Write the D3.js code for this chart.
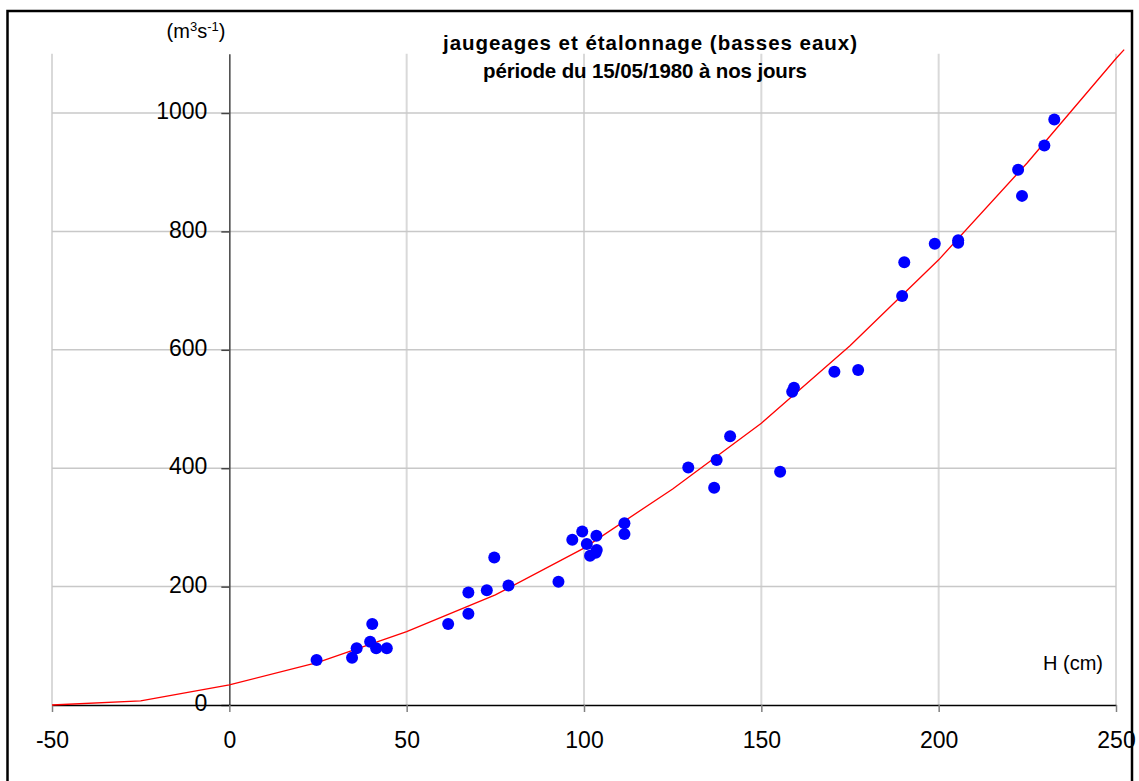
<!DOCTYPE html>
<html>
<head>
<meta charset="utf-8">
<script src="https://cdn.jsdelivr.net/npm/d3@7"></script>
<style>
  body { margin: 0; background: #fff; }
  svg { display: block; }
  svg text { font-family: "Liberation Sans", Arial, sans-serif; }
</style>
</head>
<body>
<div id="chart"></div>
<script>
// jaugeages (H en cm, Q en m3/s)
const jaugeH = [24.6, 34.6, 35.9, 39.7, 40.3, 41.4, 44.4, 61.7, 67.4, 67.4, 72.6, 74.7, 78.7,
  92.8, 96.7, 99.5, 100.8, 101.7, 103.5, 103.6, 103.3, 111.4, 111.4, 129.4, 136.7, 137.4, 141.2,
  155.3, 158.7, 159.2, 170.6, 177.3, 189.7, 190.3, 198.9, 205.5, 205.5, 222.4, 223.5, 229.8, 232.6]
const jaugeQ = [76, 80, 96, 107, 137, 96, 96, 137, 154, 190, 194, 249, 202,
  208, 279, 293, 272, 252, 286, 262, 257, 307, 289, 401, 367, 414, 454,
  394, 529, 536, 563, 566, 691, 748, 779, 785, 781, 904, 860, 945, 989]

// courbe d'etalonnage
const courbeH = [-50, -25, 0, 25, 50, 75, 100, 125, 150, 175, 200, 225, 250, 252.3]
const courbeQ = [0, 7, 34, 72, 124, 186, 265, 365, 476, 607, 752, 916, 1092, 1107]

const xTicks = [-50, 0, 50, 100, 150, 200, 250]
const yTicks = [0, 200, 400, 600, 800, 1000]
const titre = ["jaugeages et étalonnage (basses eaux)", "période du 15/05/1980 à nos jours"]

const width = 1139
const height = 781

const svg = d3.select("#chart").append("svg").attr("width", width).attr("height", height)

const xscale = d3.scaleLinear().domain([-50, 250]).range([52, 1116])
const yscale = d3.scaleLinear().domain([0, 1100]).range([705, 53.8])

// cadre
svg.append("rect")
  .attr("x", 7.5).attr("y", 11)
  .attr("width", 1124.5).attr("height", 790)
  .attr("fill", "none").attr("stroke", "black").attr("stroke-width", 2.5)

// grille
svg.append("g")
  .selectAll("line")
  .data(xTicks.filter(d => d != 0))
  .join("line")
  .attr("x1", d => xscale(d)).attr("x2", d => xscale(d))
  .attr("y1", yscale(1100)).attr("y2", yscale(0))
  .attr("stroke", "#d9d9d9").attr("stroke-width", 2)

svg.append("g")
  .selectAll("line")
  .data(yTicks.filter(d => d != 0))
  .join("line")
  .attr("x1", xscale.range()[0]).attr("x2", xscale.range()[1])
  .attr("y1", d => yscale(d)).attr("y2", d => yscale(d))
  .attr("stroke", "#c8c8c8").attr("stroke-width", 1.5)

// axes
const xAxis = g => g
  .attr("transform", `translate(0, ${yscale(0)})`)
  .call(d3.axisBottom(xscale).tickValues(xTicks).tickFormat(d => String(d))
    .tickSize(7).tickSizeOuter(0).tickPadding(20))
  .attr("font-family", null)
  .call(g => g.select(".domain").attr("stroke", "black").attr("stroke-width", 1.5))
  .call(g => g.selectAll(".tick line").attr("stroke", "#808080").attr("stroke-width", 1.5))
  .call(g => g.selectAll(".tick text").attr("font-size", 23).attr("fill", "black"))

const yAxis = g => g
  .attr("transform", `translate(${xscale(0)}, 0)`)
  .call(d3.axisLeft(yscale).tickValues(yTicks).tickFormat(d => String(d))
    .tickSize(8).tickSizeOuter(0).tickPadding(14))
  .attr("font-family", null)
  .call(g => g.select(".domain").attr("stroke", "#444").attr("stroke-width", 1.5))
  .call(g => g.selectAll(".tick line").attr("stroke", "#444").attr("stroke-width", 1.5))
  .call(g => g.selectAll(".tick text").attr("font-size", 23).attr("fill", "black").attr("dy", "0.25em"))

svg.append("g").call(yAxis)
svg.append("g").call(xAxis)

// courbe
const courbe = courbeH.map((h, i) => ({h: h, q: courbeQ[i]}))
const line = d3.line().x(d => xscale(d.h)).y(d => yscale(d.q))

svg.append("path")
  .datum(courbe)
  .attr("d", line)
  .attr("fill", "none")
  .attr("stroke", "#ff0000")
  .attr("stroke-width", 1.3)

// points de jaugeage
svg.append("g")
  .attr("fill", "#0000ff")
  .selectAll("circle")
  .data(jaugeH.map((h, i) => ({h: h, q: jaugeQ[i]})))
  .join("circle")
  .attr("cx", d => xscale(d.h))
  .attr("cy", d => yscale(d.q))
  .attr("r", 6)

// titres
svg.append("g")
  .selectAll("text")
  .data(titre)
  .join("text")
  .attr("x", (d, i) => i == 0 ? 650 : 645)
  .attr("y", (d, i) => 50 + i * 28)
  .attr("text-anchor", "middle")
  .attr("font-size", 20.5)
  .attr("font-weight", "bold")
  .attr("textLength", (d, i) => i == 0 ? 414 : 324)
  .attr("lengthAdjust", "spacing")
  .text(d => d)

// unites
const unite = svg.append("text")
  .attr("x", 196).attr("y", 38)
  .attr("text-anchor", "middle")
  .attr("font-size", 20)
unite.append("tspan").text("(m")
unite.append("tspan").attr("font-size", 13).attr("dy", -7).text("3")
unite.append("tspan").attr("dy", 7).text("s")
unite.append("tspan").attr("font-size", 13).attr("dy", -7).text("-1")
unite.append("tspan").attr("dy", 7).text(")")

svg.append("text")
  .attr("x", 1103).attr("y", 670)
  .attr("text-anchor", "end")
  .attr("font-size", 20)
  .text("H (cm)")
</script>
</body>
</html>
